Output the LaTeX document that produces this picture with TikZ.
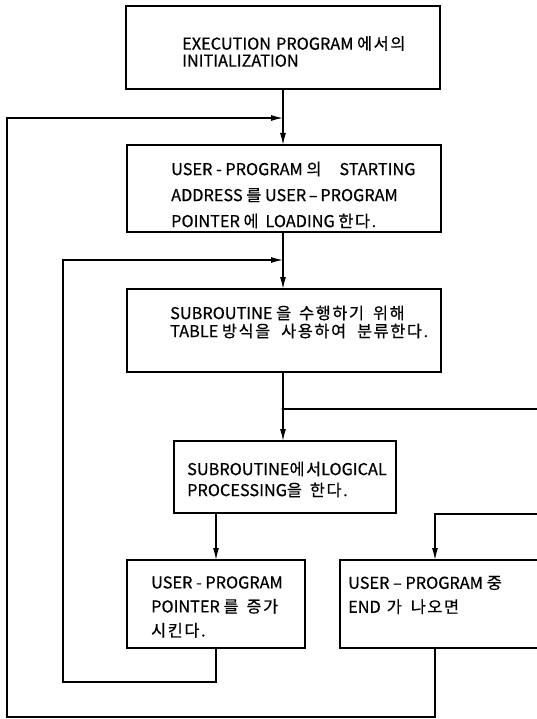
\documentclass[tikz,border=0pt]{standalone}
\usepackage{fontspec}
\setmainfont{Noto Sans CJK KR}[FakeBold=0.6]
\newfontfamily\korfont{Noto Sans CJK KR}[FakeBold=0.6, LetterSpace=10]
\newcommand{\ko}[1]{{\korfont #1}}
\usetikzlibrary{arrows.meta}
\newcommand{\gap}[1]{\hspace{#1pt}}
\begin{document}
\begin{tikzpicture}[x=1pt,y=-1pt,
  box/.style={draw, line width=1.4pt, inner sep=0pt, outer sep=0pt},
  txt/.style={inner sep=0pt, anchor=west, align=left, font=\fontsize{16.3}{#1}\selectfont},
  ln/.style={line width=1.3pt},
  arr/.style={ln, -{Latex[length=12pt,width=6pt]}}]
\clip (0,0) rectangle (537,719);
% boxes
\node[box, minimum width=314pt, minimum height=83pt] (b1) at (283,47.5) {};
\node[box, minimum width=314pt, minimum height=87pt] (b2) at (284,188.5) {};
\node[box, minimum width=314pt, minimum height=83pt] (b3) at (284,330.5) {};
\node[box, minimum width=222pt, minimum height=72pt] (b4) at (285,477) {};
\node[box, minimum width=178pt, minimum height=88pt] (b5) at (216,604) {};
\node[box, minimum width=205pt, minimum height=88pt] (b6) at (442.5,604) {};
% texts
\node[txt=17] (t1) at (182,51.5) {EXECUTION\gap{5}PROGRAM \ko{에서의}\\INITIALIZATION};
\node[txt=26] (t2) at (171,195) {USER - PROGRAM \ko{의}\gap{18}STARTING\\ADDRESS \ko{를} USER\,–\,PROGRAM\\POINTER \ko{에}\gap{7}LOADING \ko{한다.}};
\node[txt=18] (t3) at (170,322) {SUBROUTINE \ko{을}\gap{8}\ko{수행하기}\gap{9}\ko{위해}\\TABLE \ko{방식을}\gap{11}\ko{사용하여}\gap{11}\ko{분류한다.}};
\node[txt=21] (t4) at (187,479.5) {SUBROUTINE\ko{에서}LOGICAL\\PROCESSING\ko{을}\gap{8}\ko{한다.}};
\node[txt=24] (t5) at (151,607) {USER - PROGRAM\\POINTER \ko{를}\gap{8}\ko{증가}\\\ko{시킨다.}};
\node[txt=24] (t6) at (348,595) {USER\ –\ PROGRAM\gap{4}\ko{중}\\END\gap{6}\ko{가}\gap{9}\ko{나오면}};
% junction coordinates
\coordinate (m1) at (283,118);
\coordinate (m2) at (283,260);
\coordinate (br) at (283,409);
\coordinate (re) at (537,409);
\coordinate (ei) at (537,514);
\coordinate (ec) at (435,514);
\coordinate (ob) at (7,717);
\coordinate (ib) at (63,682);
% connectors
\draw[arr] (b1.south) -- (b1.south |- b2.north);
\draw[arr] (b2.south -| m2) -- (m2 |- b3.north);
\draw[ln] (b3.south -| br) -- (br);
\draw[arr] (br) -- (br |- b4.north);
\draw[ln] (br) -- (re);
\fill (br) circle (1.6pt);
\draw[arr] (b4.south -| b5.north) -- (b5.north);
\draw[arr] (b5.south) |- (ib) |- (m2);
\draw[arr] (ei) -| (ec |- b6.north);
\draw[arr] (ec |- b6.south) |- (ob) |- (m1);
\end{tikzpicture}
\end{document}
